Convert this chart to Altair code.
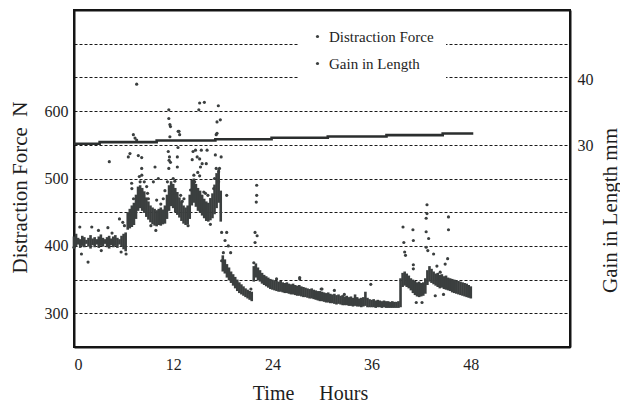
import altair as alt
import pandas as pd

FONT = "Liberation Serif"
INK = "#3b3f3f"
TXT = "#1e1e1e"
FRAME = "#151515"

# ---- Distraction force: dense band (sampled every 0.25 h from 0 h), upper and lower edge in N
band_step = 0.25
band_hi = [
    414, 418, 412, 410, 415, 413, 409, 412, 416, 411, 413, 410, 414, 417, 412, 410, 413, 415, 411, 414,
    416, 412, 410, 415, 418, 420,
    450, 455, 460, 464, 476, 488, 490, 486, 481, 472, 466, 460, 457, 455, 453, 455, 457, 454, 460, 476,
    490, 496, 492, 486, 480, 472, 466, 460, 457, 460, 476, 498, 500, 492, 486, 482, 476, 470, 466, 464,
    471, 478, 491, 508, 514, 482,
    386, 380, 373, 368, 362, 358, 354, 350, 346, 343, 340, 337, 335, 333, 332, 370, 374, 368, 364, 360,
    357, 355, 353, 351, 350, 349, 348, 347, 348, 346, 345, 346, 344, 343, 344, 342, 341, 342, 340, 339,
    338, 337, 336, 337, 335, 334, 333, 333, 332, 331, 330, 331, 329, 328, 329, 327, 328, 326, 327, 325,
    326, 324, 325, 323, 328, 324, 322, 323, 324, 332, 323, 321, 320, 321, 319, 320, 319, 318, 319, 318,
    318, 317, 318, 317, 317, 318, 352, 360, 362, 359, 356, 352, 350, 348, 346, 347, 345, 346, 352, 364,
    370, 366, 362, 359, 360, 357, 358, 355, 356, 353, 352, 351, 350, 349, 348, 347, 346, 345, 344, 342,
    340,
]
band_lo = [
    396, 399, 402, 397, 400, 398, 403, 399, 396, 401, 398, 402, 397, 400, 399, 403, 398, 396, 401, 398,
    400, 397, 402, 399, 395, 392,
    424, 426, 428, 431, 440, 452, 456, 452, 449, 443, 439, 435, 432, 430, 429, 431, 430, 432, 433, 440,
    452, 459, 456, 450, 446, 442, 437, 433, 431, 432, 440, 460, 464, 458, 452, 449, 445, 441, 437, 436,
    438, 441, 447, 456, 464, 436,
    362, 359, 353, 349, 345, 341, 337, 333, 330, 328, 326, 324, 322, 320, 318, 347, 353, 349, 347, 344,
    342, 340, 338, 336, 335, 334, 333, 332, 332, 331, 330, 330, 329, 328, 328, 327, 326, 326, 325, 324,
    324, 323, 322, 322, 321, 320, 319, 318, 318, 317, 316, 316, 315, 315, 314, 313, 314, 313, 312, 312,
    312, 311, 311, 310, 311, 310, 310, 309, 310, 311, 309, 309, 309, 309, 308, 309, 309, 308, 309, 308,
    308, 308, 308, 308, 308, 308, 309, 339, 341, 339, 337, 334, 330, 327, 325, 324, 325, 326, 329, 342,
    347, 345, 343, 341, 339, 337, 338, 336, 335, 334, 333, 331, 330, 329, 328, 327, 326, 325, 324, 323,
    322,
]
band_t = [i * band_step for i in range(len(band_hi))]

# ---- Distraction force: scattered readings (hours, N)
out_t = [
    0.0, 0.7, 0.9, 1.7, 2.15, 2.96, 3.3, 4.1, 4.27, 4.6, 5.5, 5.7, 5.9, 6.1, 6.3,
    6.57, 6.77, 6.97, 7.0, 7.18, 7.38, 7.58, 7.58, 7.78, 7.9, 8.0, 8.19, 8.19, 8.2, 8.79,
    9.6, 9.8, 9.9, 10.2, 11.4, 11.47, 11.47, 11.5, 11.47, 11.55, 11.6, 11.6, 11.67, 11.67, 12.0,
    12.5, 12.5, 12.58, 12.6, 12.7, 12.78, 14.3, 14.4, 14.6, 14.7, 14.9, 14.97, 15.1, 15.2, 15.2,
    15.2, 15.3, 15.4, 15.5, 15.77, 16.0, 16.1, 17.1, 17.2, 17.2, 17.3, 17.3, 17.46, 17.5, 17.5,
    17.6, 17.7, 17.8,
    17.86, 17.86, 18.07, 18.27, 18.47, 18.47, 18.67, 18.95,
    21.2, 21.4, 21.75, 21.9, 21.9, 22.05, 22.1, 22.1, 22.15,
    24.5, 27.3, 27.3, 29.9, 30.0, 31.5, 32.7, 35.9,
    39.8, 39.9, 40.0, 40.1, 41.0, 41.05, 41.05, 41.05, 41.4, 42.1,
    42.6, 42.6, 42.6, 42.7, 42.7, 42.8, 42.9, 43.5, 43.7, 43.9, 44.3, 44.7, 44.9, 45.2, 45.3, 45.3,
    6.8, 7.2, 8.5, 9.0, 9.3, 10.5, 10.8, 11.0, 11.3, 12.2, 12.9, 13.3, 13.8, 14.1, 14.5,
    15.7, 16.2, 16.5, 16.9, 17.0, 8.9, 10.0, 11.9, 13.1, 15.9,
]
out_f = [
    398, 428, 388, 376, 428, 423, 393, 427, 525, 419, 440, 391, 435, 430, 388,
    532, 537, 493, 485, 565, 560, 557, 640, 534, 503, 495, 531, 515, 505, 488,
    495, 517, 423, 500, 540, 602, 589, 527, 515, 532, 562, 580, 577, 524, 500,
    532, 517, 546, 570, 570, 565, 528, 540, 495, 542, 532, 509, 602, 612, 529,
    504, 517, 542, 522, 613, 522, 542, 535, 565, 515, 584, 567, 608, 510, 495,
    515, 587, 532,
    420, 378, 390, 408, 475, 420, 400, 390,
    331, 336, 375, 420, 405, 465, 490, 475, 415,
    351, 351, 353, 336, 336, 334, 328, 343,
    428, 405, 391, 386, 424, 408, 372, 366, 316, 316,
    441, 421, 398, 461, 448, 393, 411, 388, 326, 370, 361, 328, 373, 381, 443, 424,
    448, 470, 495, 470, 430, 462, 470, 482, 495, 496, 475, 470, 430, 483, 505,
    480, 475, 432, 485, 500, 478, 468, 478, 466, 478,
]

# ---- Gain in length (hours, mm), stepwise
gain_t = [0, 3.1, 10.0, 17.1, 23.9, 30.7, 37.8, 44.6, 48.3]
gain_mm = [30.26, 30.5, 30.76, 30.95, 31.17, 31.36, 31.56, 31.82, 31.82]

series_names = ["Distraction Force", "Gain in Length"]

band_df = pd.DataFrame({"t": band_t, "hi": band_hi, "lo": band_lo})
out_df = pd.DataFrame({"t": out_t, "f": out_f, "series": series_names[0]})
gain_df = pd.DataFrame({"t": gain_t, "g": gain_mm})

x_scale = alt.Scale(domain=[0, 60], nice=False, zero=False)
x_axis = alt.Axis(
    values=[0, 12, 24, 36, 48], grid=False, ticks=False,
    domain=True, domainColor=FRAME, domainWidth=2,
    labelFont=FONT, labelFontSize=16, labelColor=TXT, labelPadding=9,
    title="Time\u00a0\u00a0\u00a0\u00a0\u00a0Hours", titleFont=FONT, titleFontSize=20,
    titleFontWeight="normal", titleColor=TXT, titleX=236, titleY=46,
    titleBaseline="middle", titleAlign="center",
)
x_top_axis = alt.Axis(
    orient="top", labels=False, ticks=False, grid=False, title=None,
    domain=True, domainColor=FRAME, domainWidth=2,
)
f_scale = alt.Scale(domain=[250, 750], nice=False, zero=False)
f_axis = alt.Axis(
    values=[300, 350, 400, 450, 500, 550, 600, 650, 700],
    labelExpr="(datum.value % 100 == 0 && datum.value < 700) ? datum.label : ''",
    grid=True, gridDash=[3, 2], gridColor="#1a1a1a", gridWidth=1.2,
    ticks=False, domain=True, domainColor=FRAME, domainWidth=2,
    labelFont=FONT, labelFontSize=16, labelColor=TXT, labelPadding=6,
    title="Distraction Force\u00a0\u00a0N", titleFont=FONT, titleFontSize=21,
    titleFontWeight="normal", titleColor=TXT, titleAngle=270,
    titleX=-54, titleY=177, titleBaseline="middle", titleAlign="center",
)
g_scale = alt.Scale(domain=[-0.5, 50.5], nice=False, zero=False)
g_axis = alt.Axis(
    orient="right", values=[30, 40], grid=False, ticks=False,
    domain=True, domainColor=FRAME, domainWidth=2,
    labelFont=FONT, labelFontSize=16, labelColor=TXT, labelPadding=7,
    title="Gain in Length mm", titleFont=FONT, titleFontSize=21,
    titleFontWeight="normal", titleColor=TXT, titleAngle=270,
    titleX=40, titleY=200, titleBaseline="middle", titleAlign="center",
)

band = alt.Chart(band_df).mark_rule(color=INK, strokeWidth=2.6).encode(
    x=alt.X("t:Q", scale=x_scale, axis=x_axis),
    y=alt.Y("lo:Q", scale=f_scale, axis=f_axis),
    y2="hi:Q",
)

pts = alt.Chart(out_df).mark_circle(size=10, opacity=1).encode(
    x=alt.X("t:Q", scale=x_scale),
    y=alt.Y("f:Q", scale=f_scale),
    color=alt.Color(
        "series:N",
        scale=alt.Scale(domain=series_names, range=[INK, INK]),
        legend=alt.Legend(
            orient="none", legendX=224, legendY=7, title=None,
            fillColor="white", padding=12, rowPadding=11,
            labelFont=FONT, labelFontSize=15, labelColor=TXT, labelOffset=4,
            symbolType="circle", symbolSize=10, symbolStrokeWidth=0,
        ),
    ),
)

gain = alt.Chart(gain_df).mark_line(interpolate="step-after", color="#2b2e2e", strokeWidth=2.6).encode(
    x=alt.X("t:Q", scale=x_scale, axis=x_top_axis),
    y=alt.Y("g:Q", scale=g_scale, axis=g_axis),
)

chart = alt.layer(alt.layer(band, pts), gain).resolve_scale(y="independent").resolve_axis(
    x="independent"
).properties(
    width=496, height=337,
    padding={"left": 74, "top": 10, "right": 50, "bottom": 58},
    autosize=alt.AutoSizeParams(type="none"),
).configure(background="white").configure_view(stroke=FRAME, strokeWidth=2)

chart.save("out.html", embed_options={"renderer": "svg", "actions": False})
